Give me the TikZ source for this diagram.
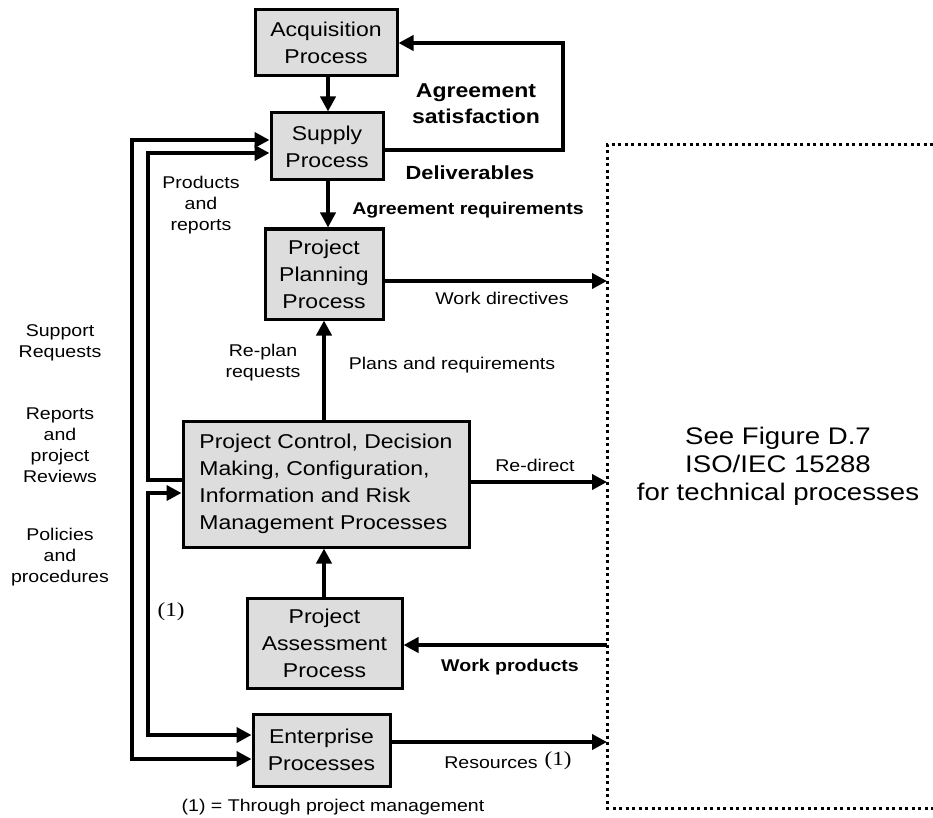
\documentclass[tikz,border=0pt]{standalone}
\usepackage{fontspec}
\setmainfont{Liberation Sans}[FakeStretch=1.15]
\newfontfamily\serifone{Liberation Serif}[FakeStretch=1.15]
\usetikzlibrary{arrows.meta}
\definecolor{boxgray}{RGB}{221,221,221}
\tikzset{
  procbox/.style={draw, line width=3pt, fill=boxgray, align=center, inner sep=0pt,
    font=\fontsize{20}{27}\selectfont},
  arr/.style={line width=4pt, -{Triangle[length=15pt,width=15pt]}},
  dbl/.style={line width=4pt, {Triangle[length=15pt,width=15pt]}-{Triangle[length=15pt,width=15pt]}},
  dotbox/.style={line width=3pt, dash pattern=on 3pt off 3.5pt},
  lab/.style={inner sep=0pt, align=center, font=\fontsize{17}{21}\selectfont},
  labB/.style={inner sep=0pt, align=center, font=\fontsize{20}{26}\selectfont\bfseries},
  labBS/.style={inner sep=0pt, align=center, font=\fontsize{17}{21}\selectfont\bfseries},
  serlab/.style={inner sep=0pt, font=\serifone\fontsize{20}{24}\selectfont},
  biglab/.style={inner sep=0pt, align=center, font=\fontsize{24}{28}\selectfont}
}
\begin{document}
\begin{tikzpicture}[x=1pt,y=-1pt]
\useasboundingbox (0,0) rectangle (933,818);
% boxes
\node[procbox, minimum width=142pt, minimum height=66pt] (acq) at (326,43) {Acquisition\\Process};
\node[procbox, minimum width=112pt, minimum height=67pt] (sup) at (327,146.5) {Supply\\Process};
\node[procbox, minimum width=118pt, minimum height=90pt] (plan) at (324,274) {Project\\Planning\\Process};
\node[procbox, minimum width=286pt, minimum height=126pt, align=left] (pc) at (326,484)
  {Project Control, Decision\\Making, Configuration,\\Information and Risk\\Management Processes};
\node[procbox, minimum width=155pt, minimum height=90pt] (ass) at (324.5,643) {Project\\Assessment\\Process};
\node[procbox, minimum width=137pt, minimum height=72pt] (ent) at (321.5,750) {Enterprise\\Processes};
% helper coordinates
\coordinate (cA) at (328,0);
\coordinate (cB) at (324,0);
\coordinate (ySat) at (0,150);
\coordinate (sat) at (563,43);
\coordinate (yWD) at (0,281);
\coordinate (yRD) at (0,482);
\coordinate (yWP) at (0,645);
\coordinate (yRS) at (0,742);
\coordinate (yO) at (0,140);
\coordinate (yI) at (0,153);
\coordinate (xO) at (132,0);
\coordinate (xI) at (148,0);
\coordinate (yPCa) at (0,480);
\coordinate (yPCb) at (0,493);
\coordinate (yE1) at (0,735);
\coordinate (yE2) at (0,759);
\coordinate (tl) at (607,145);
\coordinate (bl) at (607,808);
\coordinate (tr) at (933,145);
\coordinate (br) at (933,808);
% dotted region
\draw[dotbox] (tr) -- (tl) -- (bl) -- (br);
% connectors
\draw[arr] (acq.south -| cA) -- (sup.north -| cA);
\draw[arr] (sup.south -| cA) -- (plan.north -| cA);
\draw[arr] (sup.east |- ySat) -| (sat) -- (acq.east |- sat);
\draw[arr] (plan.east |- yWD) -- (tl |- yWD);
\draw[arr] (pc.north -| cB) -- (plan.south -| cB);
\draw[arr] (pc.east |- yRD) -- (tl |- yRD);
\draw[arr] (ass.north -| cB) -- (pc.south -| cB);
\draw[arr] (tl |- yWP) -- (ass.east |- yWP);
\draw[arr] (ent.east |- yRS) -- (tl |- yRS);
\draw[arr] (pc.west |- yPCa) -| (xI |- yI) -- (sup.west |- yI);
\draw[dbl] (ent.west |- yE2) -| (xO |- yO) -- (sup.west |- yO);
\draw[dbl] (pc.west |- yPCb) -| (xI |- yE1) -- (ent.west |- yE1);
% labels
\node[lab] (l1) at (201,205) {Products\\and\\reports};
\node[lab] (l2) at (60,343) {Support\\Requests};
\node[lab] (l3) at (60,445) {Reports\\and\\project\\Reviews};
\node[lab] (l4) at (60,557) {Policies\\and\\procedures};
\node[labB] (l5) at (476,104) {Agreement\\satisfaction};
\node[labB, font=\fontsize{19}{24}\selectfont\bfseries] (l6) at (470,173) {Deliverables};
\node[labBS] (l7) at (468,210) {Agreement requirements};
\node[lab] (l8) at (502,298) {Work directives};
\node[lab] (l9) at (263,363) {Re-plan\\requests};
\node[lab] (l10) at (452,365) {Plans and requirements};
\node[lab] (l11) at (535,465) {Re-direct};
\node[labBS] (l12) at (510,667) {Work products};
\node[lab] (l13) at (491,763) {Resources};
\node[serlab] (l14) at (558,761) {(1)};
\node[serlab] (l15) at (171,612) {(1)};
\node[lab] (l16) at (333,807) {(1) = Through project management};
\node[biglab] (l17) at (778,466) {See Figure D.7\\ISO/IEC 15288\\for technical processes};
\end{tikzpicture}
\end{document}
